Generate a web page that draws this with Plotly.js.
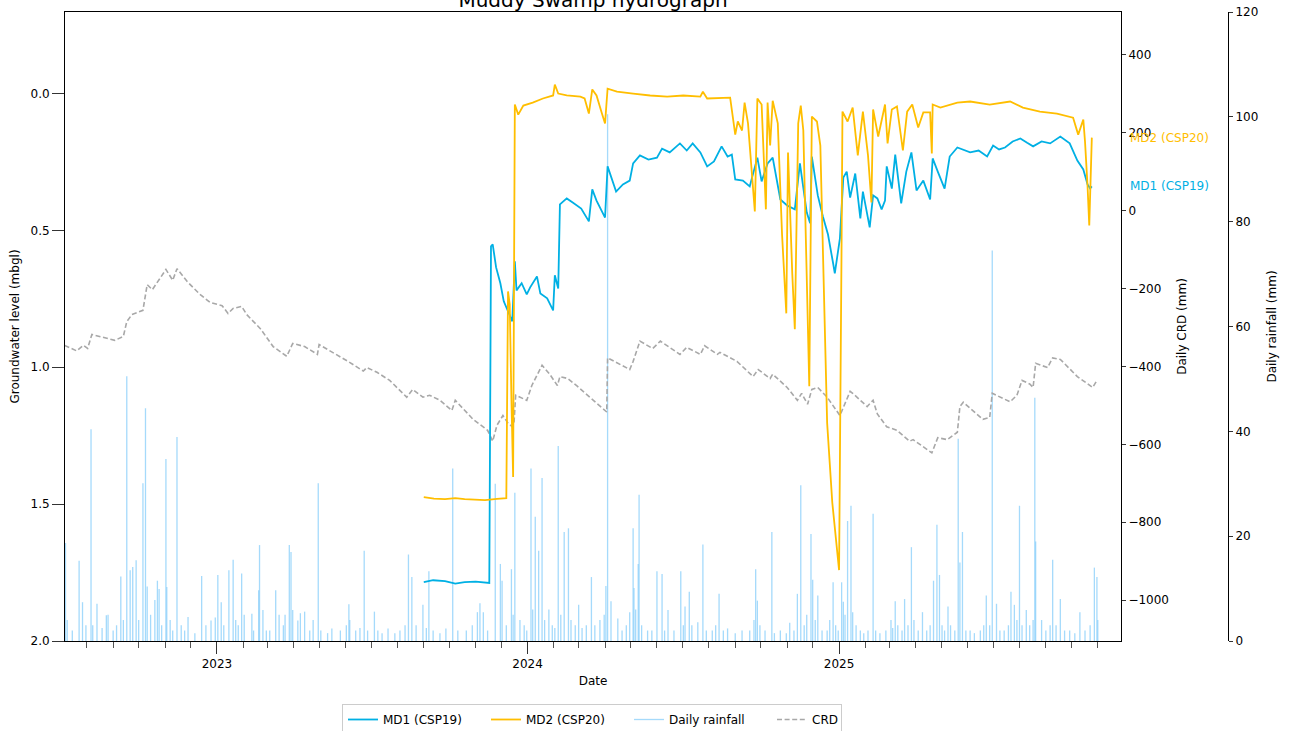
<!DOCTYPE html>
<html>
<head>
<meta charset="utf-8">
<script src="https://cdn.plot.ly/plotly-3.0.1.min.js"></script>
<style>html,body{margin:0;padding:0;background:#fff;}#chart{width:1290px;height:731px;}</style>
</head>
<body>
<div id="chart"></div>
<script>
// ---- Data ----
const md1Dates = [
'2023-09-01','2023-09-12','2023-09-26','2023-10-08','2023-10-19','2023-11-01','2023-11-17','2023-11-19','2023-11-21','2023-11-25','2023-11-30','2023-12-04','2023-12-14',
'2023-12-17','2023-12-19','2023-12-25','2023-12-31','2024-01-04','2024-01-12','2024-01-16','2024-01-24','2024-01-31','2024-02-02',
'2024-02-06','2024-02-08','2024-02-16','2024-02-23','2024-03-04','2024-03-13','2024-03-17','2024-03-22','2024-04-01','2024-04-04',
'2024-04-14','2024-04-22','2024-04-30','2024-05-04','2024-05-12','2024-05-22','2024-06-01','2024-06-07','2024-06-16','2024-06-28','2024-07-06',
'2024-07-13','2024-07-22','2024-07-30','2024-08-07','2024-08-16','2024-08-23','2024-08-28','2024-09-01','2024-09-10','2024-09-18',
'2024-09-27','2024-10-02','2024-10-09','2024-10-15','2024-10-24','2024-11-01','2024-11-10','2024-11-16','2024-11-24','2024-11-28',
'2024-11-30','2024-12-07','2024-12-13','2024-12-19','2024-12-25','2024-12-27','2025-01-02','2025-01-06','2025-01-10','2025-01-14',
'2025-01-20','2025-01-26','2025-01-29','2025-02-03','2025-02-06','2025-02-10','2025-02-15','2025-02-20','2025-02-24','2025-02-26',
'2025-03-04','2025-03-08','2025-03-15','2025-03-21','2025-03-27','2025-04-02','2025-04-10','2025-04-18','2025-04-21','2025-04-27',
'2025-05-05','2025-05-11','2025-05-20','2025-06-04','2025-06-14','2025-06-24','2025-07-01','2025-07-08','2025-07-15','2025-07-24','2025-08-02','2025-08-10','2025-08-17',
'2025-08-27','2025-09-06','2025-09-18','2025-09-29','2025-10-08','2025-10-15','2025-10-20','2025-10-23','2025-10-25'
];
const md1Level = [
1.785,1.778,1.781,1.790,1.785,1.783,1.788,0.558,0.551,0.635,0.693,0.759,0.832,
0.613,0.719,0.693,0.734,0.708,0.668,0.730,0.748,0.792,0.664,
0.712,0.405,0.383,0.398,0.420,0.467,0.350,0.391,0.453,0.266,
0.358,0.332,0.318,0.255,0.226,0.241,0.234,0.201,0.215,0.182,0.208,
0.182,0.215,0.266,0.248,0.193,0.230,0.223,0.314,0.318,0.339,
0.234,0.321,0.255,0.234,0.387,0.409,0.423,0.255,0.434,0.474,
0.230,0.372,0.449,0.515,0.620,0.657,0.529,0.307,0.285,0.380,
0.292,0.456,0.358,0.449,0.489,0.372,0.383,0.423,0.391,0.266,
0.347,0.223,0.401,0.285,0.215,0.354,0.318,0.387,0.237,0.285,
0.347,0.230,0.197,0.215,0.208,0.230,0.190,0.204,0.197,0.175,0.164,0.180,0.193,
0.175,0.182,0.157,0.182,0.245,0.277,0.332,0.347,0.339
];

const md2Dates = [
'2023-09-01','2023-09-13','2023-09-26','2023-10-08','2023-10-19','2023-11-12','2023-11-26','2023-12-07','2023-12-09','2023-12-11','2023-12-13','2023-12-15','2023-12-17',
'2023-12-21','2023-12-27','2024-01-07','2024-01-19','2024-01-31','2024-02-02','2024-02-06','2024-02-16','2024-03-03','2024-03-08',
'2024-03-13','2024-03-17','2024-03-22','2024-03-28','2024-04-01','2024-04-04','2024-04-15','2024-05-04','2024-05-24','2024-06-13',
'2024-07-02','2024-07-22','2024-07-25','2024-07-30','2024-08-26','2024-09-01','2024-09-04','2024-09-09','2024-09-12','2024-09-16',
'2024-09-24','2024-09-27','2024-10-02','2024-10-07','2024-10-09','2024-10-12','2024-10-15','2024-10-21','2024-10-26','2024-10-31',
'2024-11-02','2024-11-07','2024-11-10','2024-11-14','2024-11-17','2024-11-20','2024-11-27','2024-11-30','2024-12-06','2024-12-10',
'2024-12-18','2024-12-24','2024-12-30','2025-01-01','2025-01-04','2025-01-05','2025-01-11','2025-01-17','2025-01-23','2025-01-29',
'2025-02-04','2025-02-08','2025-02-10','2025-02-16','2025-02-24','2025-02-27','2025-03-04','2025-03-10','2025-03-17','2025-03-22',
'2025-03-28','2025-04-04','2025-04-10','2025-04-18','2025-04-20','2025-04-21','2025-04-30','2025-05-20','2025-06-04','2025-06-27',
'2025-07-21','2025-08-05','2025-08-25','2025-09-14','2025-10-03','2025-10-09','2025-10-15','2025-10-17','2025-10-20','2025-10-22',
'2025-10-25'
];
const md2Level = [
1.474,1.480,1.482,1.478,1.482,1.485,1.481,1.478,0.723,0.770,1.117,1.401,0.040,
0.077,0.044,0.033,0.018,0.007,-0.033,0.000,0.007,0.011,0.018,
0.073,-0.015,0.007,0.069,0.109,-0.018,-0.007,0.000,0.007,0.011,
0.007,0.011,-0.007,0.018,0.015,0.150,0.102,0.135,0.033,0.109,
0.431,0.018,0.040,0.423,0.033,0.190,0.026,0.109,0.515,0.803,
0.215,0.657,0.861,0.109,0.044,0.135,1.069,0.084,0.102,0.190,
1.204,1.493,1.675,1.741,0.529,0.066,0.102,0.051,0.226,0.066,
0.226,0.398,0.058,0.157,0.040,0.182,0.058,0.047,0.208,0.066,
0.040,0.124,0.069,0.069,0.219,0.040,0.051,0.033,0.029,0.040,
0.029,0.051,0.066,0.073,0.088,0.150,0.095,0.175,0.339,0.482,
0.161
];

const crdDates = [
'2022-07-06','2022-07-20','2022-07-28','2022-08-02','2022-08-07','2022-08-20','2022-09-03','2022-09-13','2022-09-17','2022-09-23',
'2022-10-06','2022-10-11','2022-10-17','2022-10-26','2022-11-02','2022-11-10','2022-11-15','2022-11-27','2022-12-12','2022-12-24',
'2023-01-07','2023-01-14','2023-01-20','2023-01-30','2023-02-05','2023-02-21','2023-03-08','2023-03-24','2023-03-31','2023-04-14',
'2023-04-29','2023-05-01','2023-05-17','2023-06-04','2023-06-22','2023-06-26','2023-07-08','2023-07-23','2023-08-12','2023-08-19',
'2023-08-31','2023-09-08','2023-09-20','2023-10-04','2023-10-08','2023-10-29','2023-11-15','2023-11-21','2023-11-26','2023-12-03',
'2023-12-09','2023-12-14','2023-12-16','2023-12-18','2023-12-31','2024-01-06','2024-01-18','2024-01-27','2024-02-05','2024-02-08',
'2024-02-17','2024-02-28','2024-03-14','2024-03-18','2024-04-03','2024-04-04','2024-04-16','2024-04-30','2024-05-04','2024-05-12',
'2024-05-27','2024-06-05','2024-06-28','2024-07-06','2024-07-22','2024-07-27','2024-08-11','2024-08-14','2024-09-03','2024-09-22',
'2024-09-28','2024-10-12','2024-10-15','2024-11-01','2024-11-13','2024-11-18','2024-11-25','2024-11-30','2024-12-07','2024-12-18',
'2025-01-02','2025-01-14','2025-01-17','2025-02-03','2025-02-10','2025-02-15','2025-02-26','2025-03-10','2025-03-25','2025-03-29',
'2025-04-20','2025-04-27','2025-05-08','2025-05-20','2025-05-23','2025-05-27','2025-06-19','2025-06-27','2025-06-30','2025-07-21',
'2025-07-29','2025-08-04','2025-08-13','2025-08-17','2025-08-20','2025-09-03','2025-09-09','2025-09-18','2025-10-08','2025-10-26',
'2025-10-31'
];
const crdValues = [
-346,-360,-346,-354,-318,-326,-333,-323,-285,-267,
-256,-190,-203,-174,-151,-179,-149,-182,-215,-236,
-244,-264,-251,-246,-267,-303,-349,-374,-341,-349,
-369,-344,-364,-387,-412,-403,-415,-436,-479,-459,
-479,-474,-487,-513,-487,-536,-564,-592,-551,-526,
-546,-555,-546,-474,-487,-449,-397,-420,-449,-426,
-431,-450,-479,-487,-517,-378,-392,-408,-387,-335,
-354,-335,-369,-351,-369,-347,-369,-364,-387,-426,
-408,-431,-420,-454,-487,-469,-497,-459,-454,-479,
-526,-464,-469,-503,-487,-522,-555,-564,-592,-588,
-622,-583,-588,-569,-503,-492,-536,-531,-469,-491,
-474,-436,-445,-454,-392,-403,-378,-382,-426,-454,
-436
];

const rainDates = [
'2022-07-07','2022-07-09','2022-07-15','2022-07-23','2022-07-27','2022-07-31','2022-08-06','2022-08-08','2022-08-13','2022-08-19',
'2022-08-24','2022-08-26','2022-09-01','2022-09-05','2022-09-10','2022-09-13','2022-09-17','2022-09-21','2022-09-24','2022-09-28',
'2022-10-01','2022-10-06','2022-10-09','2022-10-11','2022-10-15','2022-10-20','2022-10-23','2022-10-25','2022-10-28','2022-11-02',
'2022-11-03','2022-11-07','2022-11-10','2022-11-15','2022-11-20','2022-11-24','2022-11-28','2022-12-06','2022-12-14','2022-12-19',
'2022-12-25','2022-12-30','2023-01-02','2023-01-06','2023-01-09','2023-01-15','2023-01-20','2023-01-23','2023-01-26','2023-01-30',
'2023-02-02','2023-02-11','2023-02-13','2023-02-19','2023-02-20','2023-02-24','2023-02-28','2023-03-04','2023-03-11','2023-03-15',
'2023-03-20','2023-03-22','2023-03-27','2023-03-29','2023-03-31','2023-04-06','2023-04-09','2023-04-14','2023-04-20','2023-04-24',
'2023-04-30','2023-05-03','2023-05-11','2023-05-16','2023-05-26','2023-06-02','2023-06-05','2023-06-06','2023-06-13','2023-06-18',
'2023-06-23','2023-06-27','2023-07-05','2023-07-09','2023-07-14','2023-07-21','2023-07-29','2023-08-04','2023-08-10','2023-08-14',
'2023-08-18','2023-08-23','2023-08-31','2023-09-04','2023-09-07','2023-09-12','2023-09-20','2023-09-27','2023-10-05','2023-10-11',
'2023-10-21','2023-10-28','2023-11-03','2023-11-06','2023-11-10','2023-11-15','2023-11-24','2023-11-30','2023-12-02','2023-12-07',
'2023-12-13','2023-12-15','2023-12-17','2023-12-23','2023-12-28','2023-12-31','2024-01-05','2024-01-07','2024-01-10','2024-01-14',
'2024-01-18','2024-01-21','2024-01-26','2024-01-30','2024-02-02','2024-02-06','2024-02-09','2024-02-13','2024-02-18','2024-02-21',
'2024-02-26','2024-03-01','2024-03-05','2024-03-10','2024-03-16','2024-03-20','2024-03-26','2024-03-31','2024-04-02','2024-04-04',
'2024-04-08','2024-04-16','2024-04-21','2024-04-26','2024-04-30','2024-05-04','2024-05-05','2024-05-07','2024-05-10','2024-05-11',
'2024-05-14','2024-05-21','2024-05-26','2024-06-01','2024-06-07','2024-06-10','2024-06-14','2024-06-21','2024-06-29','2024-07-02',
'2024-07-04','2024-07-09','2024-07-12','2024-07-19','2024-07-25','2024-07-29','2024-08-05','2024-08-09','2024-08-13','2024-08-18',
'2024-08-23','2024-09-01','2024-09-09','2024-09-18','2024-09-23','2024-09-25','2024-09-27','2024-09-30','2024-10-06','2024-10-14',
'2024-10-17','2024-10-24','2024-10-31','2024-11-04','2024-11-09','2024-11-13','2024-11-17','2024-11-21','2024-11-24','2024-11-29',
'2024-12-01','2024-12-04','2024-12-07','2024-12-12','2024-12-18','2024-12-21','2024-12-25','2024-12-28','2024-12-31','2025-01-04',
'2025-01-06','2025-01-08','2025-01-11','2025-01-15','2025-01-17','2025-01-21','2025-01-26','2025-01-30','2025-02-04','2025-02-10',
'2025-02-13','2025-02-18','2025-02-25','2025-03-03','2025-03-05','2025-03-08','2025-03-11','2025-03-16','2025-03-19','2025-03-23',
'2025-03-27','2025-03-30','2025-04-04','2025-04-09','2025-04-14','2025-04-18','2025-04-22','2025-04-26','2025-04-29','2025-05-02',
'2025-05-05','2025-05-09','2025-05-12','2025-05-17','2025-05-21','2025-05-23','2025-05-26','2025-05-30','2025-06-04','2025-06-09',
'2025-06-16','2025-06-20','2025-06-23','2025-06-27','2025-06-30','2025-07-05','2025-07-09','2025-07-14','2025-07-19','2025-07-22',
'2025-07-26','2025-07-29','2025-08-01','2025-08-04','2025-08-09','2025-08-13','2025-08-17','2025-08-19','2025-08-20','2025-08-27',
'2025-09-01','2025-09-06','2025-09-09','2025-09-13','2025-09-18','2025-09-23','2025-09-29','2025-10-05','2025-10-11','2025-10-17',
'2025-10-23','2025-10-28','2025-10-31','2025-11-01'
];
const rainMm = [
18.7,4,2,15.3,7.4,3,40.4,3,7.1,2.5,
4.9,5,2,3,12.3,4,50.5,13.5,14.1,15.4,
4,30.1,44.4,10.4,5,7.8,11.5,9.9,3,34.7,
10.3,4,2,38.9,3,2,4.6,1.5,12.4,3,
3.9,4.5,12.6,7.4,3,13.5,15.5,4,3,12.9,
5,5.2,2,9.7,18.3,5.9,2,2,9.7,5,
3,5,18.3,17,5.9,3.9,5.3,5.6,2,4,
30.1,2,1.5,2.4,2,3,7,4,2,2.5,
17.2,2,5.6,2,1.5,2.4,1.5,2,3,16.5,
12.2,3,6.9,2.5,13.3,2,1.5,2.4,32.9,2,
2,3,5.5,7.2,5.5,2,30,14.7,11.5,3,
13.7,5,28.3,4,3,2,32.9,6,23.7,17.2,
31.1,4,6,3,2.5,37.2,5,20.8,21.5,4,
3,6.9,2.5,3,12.2,3,4,5,10.5,100.5,
7.6,4.3,2,3,5.5,21.5,10.1,6,14.7,27.9,
3,2,2,13.3,12.8,2,5.9,2,13.3,3,
6.6,9.4,3,3.6,18.4,2,2,3,9,2,
2.4,1.5,2,2,4,13.7,7.7,3,2,20.8,
1.5,2,1.5,3.5,2,9,29.7,3,5,20.4,
11.7,4,8.7,2,2,4,11.2,3,2,11.2,
7.5,5,22.9,25.8,5.5,3,2,1.5,2,24.3,
2,1.5,2,4,2.5,7.6,3,2,8,3,
17.9,4,2,5.5,2,3,11.5,22.2,12.6,3,
2,6.6,3,2,38.6,15,20.8,2,2,1.5,
2,3,8.7,3,74.5,7.1,2,2,3,9.4,
6.9,4,25.8,3,5.9,3,4,46.4,19,4,
2,3,15.5,3,8,2,2,1.5,5.5,2,
3,14,12.2,4
];

// ---- Build traces ----
const rainX = [], rainY = [];
rainDates.forEach((d, i) => { rainX.push(d, d, null); rainY.push(0, rainMm[i], null); });

const MD1_COLOR = '#00b0e4';
const MD2_COLOR = '#ffbe00';

const traces = [
  {x: rainX, y: rainY, type: 'scatter', mode: 'lines', name: 'Daily rainfall', yaxis: 'y',
   line: {color: 'rgba(135,206,250,0.75)', width: 1.3}, legendrank: 3, legendwidth: 98, hoverinfo: 'skip'},
  {x: crdDates, y: crdValues, type: 'scatter', mode: 'lines', name: 'CRD', yaxis: 'y2',
   line: {color: '#a8a8a8', width: 1.6, dash: '5px,2.6px'}, legendrank: 4, legendwidth: 24},
  {x: md1Dates, y: md1Level, type: 'scatter', mode: 'lines', name: 'MD1 (CSP19)', yaxis: 'y3',
   line: {color: MD1_COLOR, width: 1.8}, legendrank: 1, legendwidth: 98},
  {x: md2Dates, y: md2Level, type: 'scatter', mode: 'lines', name: 'MD2 (CSP20)', yaxis: 'y3',
   line: {color: MD2_COLOR, width: 1.8}, legendrank: 2, legendwidth: 98}
];

const W = 1290, H = 731, ML = 65, MR = 62, MT = 12, MB = 90;
const PW = W - ML - MR;           // paper width
const plotRight = 1121;
const xDomEnd = (plotRight - ML) / PW;

const layout = {
  width: W, height: H,
  margin: {l: ML, r: MR, t: MT, b: MB, pad: 0},
  paper_bgcolor: '#ffffff', plot_bgcolor: '#ffffff',
  font: {family: 'DejaVu Sans, sans-serif', size: 12, color: '#000'},
  title: {text: 'Muddy Swamp hydrograph', font: {size: 20, color: '#000'},
          xref: 'paper', x: ((ML + plotRight) / 2 - ML) / PW, xanchor: 'center',
          yref: 'container', y: 1, yanchor: 'middle'},
  showlegend: true,
  legend: {orientation: 'h', xref: 'container', x: 592 / W, xanchor: 'center',
           yref: 'container', y: 1 - 704 / H, yanchor: 'top',
           bordercolor: '#cccccc', borderwidth: 1, bgcolor: '#ffffff', font: {size: 12}, traceorder: 'normal'},
  xaxis: {type: 'date', domain: [0, xDomEnd], anchor: 'y',
          range: ['2022-07-06 10:00', '2025-11-28 07:00'],
          showline: true, linecolor: '#000', linewidth: 1, mirror: true,
          ticks: 'outside', ticklen: 12, tickcolor: '#333', tickwidth: 1,
          dtick: 'M12', tick0: '2023-01-01', tickformat: '%Y',
          minor: {ticks: 'outside', ticklen: 6, dtick: 'M1', tick0: '2023-01-01', tickcolor: '#555', tickwidth: 1},
          showgrid: false, zeroline: false,
          title: {text: 'Date', standoff: 6, font: {size: 12}}},
  yaxis: {range: [0, 120], side: 'right', anchor: 'free', position: 1,
          showline: true, linecolor: '#000', linewidth: 1,
          ticks: 'outside', ticklen: 4, tickcolor: '#333', dtick: 20, tick0: 0,
          showgrid: false, zeroline: false,
          title: {text: 'Daily rainfall (mm)', standoff: 10, font: {size: 12}}},
  yaxis2: {range: [-1105, 510], overlaying: 'y', side: 'right', anchor: 'x',
           showline: true, linecolor: '#000', linewidth: 1,
           ticks: 'outside', ticklen: 4, tickcolor: '#333', dtick: 200, tick0: 0,
           showgrid: false, zeroline: false,
           title: {text: 'Daily CRD (mm)', standoff: 9, font: {size: 12}}},
  yaxis3: {range: [2.0, -0.298], overlaying: 'y', side: 'left', anchor: 'x',
           showline: true, linecolor: '#000', linewidth: 1,
           ticks: 'outside', ticklen: 12, tickcolor: '#333', dtick: 0.5, tick0: 0, tickformat: '.1f',
           showgrid: false, zeroline: false,
           title: {text: 'Groundwater level (mbgl)', standoff: 8, font: {size: 12}}},
  annotations: [
    {xref: 'paper', x: (1128 - ML) / PW, xanchor: 'left', yref: 'y3', y: md2Level[md2Level.length - 1], yanchor: 'middle',
     text: 'MD2 (CSP20)', showarrow: false, font: {size: 12, color: MD2_COLOR}},
    {xref: 'paper', x: (1128 - ML) / PW, xanchor: 'left', yref: 'y3', y: md1Level[md1Level.length - 1], yanchor: 'middle',
     text: 'MD1 (CSP19)', showarrow: false, font: {size: 12, color: MD1_COLOR}}
  ]
};

Plotly.newPlot('chart', traces, layout, {staticPlot: true, displayModeBar: false});
</script>
</body>
</html>
